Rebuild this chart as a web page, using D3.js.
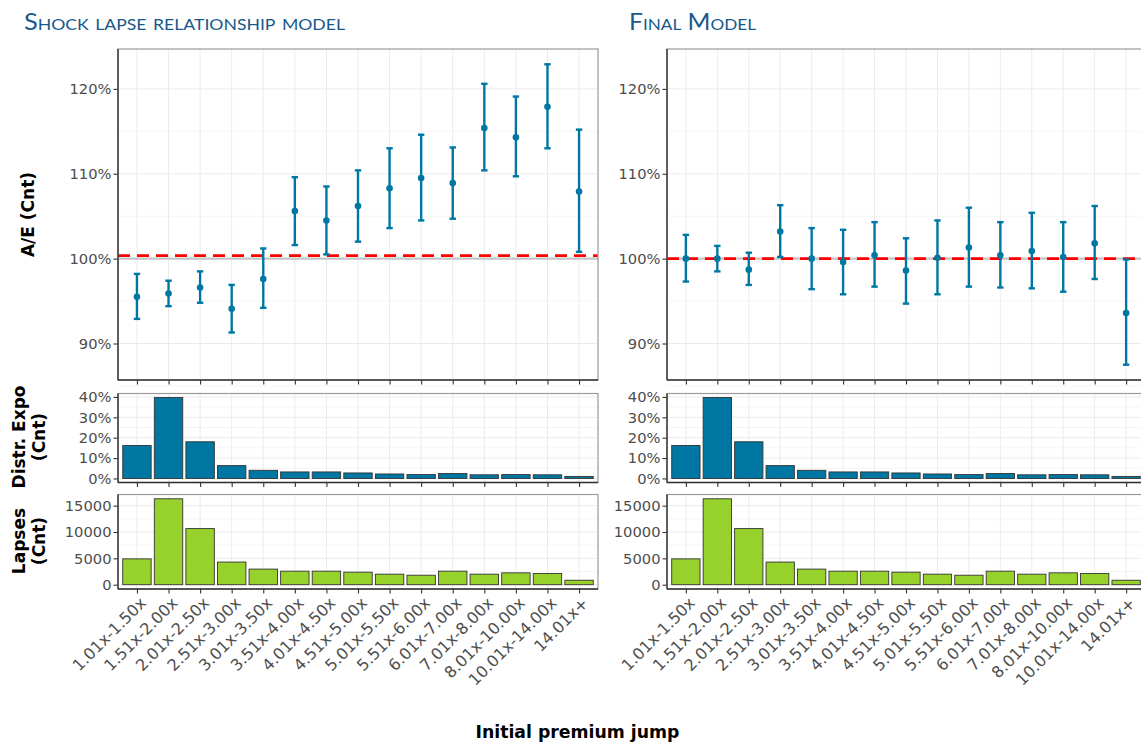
<!DOCTYPE html>
<html>
<head>
<meta charset="utf-8">
<script src="https://cdn.jsdelivr.net/npm/d3@7"></script>
<style>
  html, body { margin: 0; padding: 0; background: #fff; }
  svg { display: block; }
  text { font-family: "DejaVu Sans", sans-serif; }
  .title { font-family: Lato, "Open Sans", sans-serif; font-variant: small-caps; fill: #17598a; }
</style>
</head>
<body>
<svg id="chart" width="1141" height="743"></svg>
<script>
// ---------- data ----------
const categories = ["1.01x-1.50x","1.51x-2.00x","2.01x-2.50x","2.51x-3.00x","3.01x-3.50x","3.51x-4.00x","4.01x-4.50x","4.51x-5.00x","5.01x-5.50x","5.51x-6.00x","6.01x-7.00x","7.01x-8.00x","8.01x-10.00x","10.01x-14.00x","14.01x+"];

// Shock lapse relationship model: A/E (%) with lower/upper bounds
const aeShock      = [95.5, 95.9, 96.6, 94.1, 97.6, 105.6, 104.5, 106.2, 108.3, 109.5, 108.9, 115.4, 114.3, 117.9, 107.9];
const aeShockLow   = [92.9, 94.4, 94.8, 91.3, 94.2, 101.6, 100.5, 102.0, 103.6, 104.5, 104.7, 110.4, 109.7, 113.0, 100.8];
const aeShockHigh  = [98.2, 97.4, 98.5, 96.9, 101.2, 109.6, 108.5, 110.4, 113.0, 114.6, 113.1, 120.6, 119.1, 122.9, 115.2];
const shockRef = 100.35;

// Final model
const aeFinal      = [100.0, 100.0, 98.7, 103.2, 100.0, 99.6, 100.4, 98.6, 100.1, 101.3, 100.4, 100.9, 100.2, 101.8, 93.6];
const aeFinalLow   = [97.3, 98.5, 96.9, 100.2, 96.4, 95.8, 96.7, 94.7, 95.8, 96.7, 96.6, 96.5, 96.1, 97.6, 87.5];
const aeFinalHigh  = [102.8, 101.5, 100.7, 106.3, 103.6, 103.4, 104.3, 102.4, 104.5, 106.0, 104.3, 105.4, 104.3, 106.2, 99.9];
const finalRef = 100;

// Exposure distribution (%) and lapse counts (same in both models)
const distrExpo = [16.2, 39.7, 18.0, 6.3, 4.0, 3.2, 3.2, 2.7, 2.2, 1.9, 2.4, 1.8, 1.9, 1.8, 1.0];
const lapses    = [4900, 16300, 10650, 4300, 2960, 2570, 2570, 2380, 2000, 1800, 2570, 2000, 2250, 2120, 850];

const aeTicks = [90, 100, 110, 120];
const aeMinor = [85, 95, 105, 115];
const distrTicks = [0, 10, 20, 30, 40];
const distrMinor = [5, 15, 25, 35];
const lapseTicks = [0, 5000, 10000, 15000];
const lapseMinor = [2500, 7500, 12500];

const titles = ["Shock lapse relationship model", "Final Model"];

// ---------- layout ----------
const svg = d3.select("#chart");
const W = 1141, H = 743;
const cols = [{x0: 118, x1: 598}, {x0: 667, x1: 1145}];
const rowAE = {y0: 49, y1: 380};
const rowD  = {y0: 393.5, y1: 482.5};
const rowL  = {y0: 494.5, y1: 589};

const blue = "#0077a2";
const green = "#97d12b";
const labelColor = "#4d4d4d";

svg.append("defs").append("clipPath").attr("id", "clipAll")
  .append("rect").attr("x", 0).attr("y", 0).attr("width", W).attr("height", H);

const root = svg.append("g").attr("clip-path", "url(#clipAll)");

const yAE = d3.scaleLinear().domain([85.7, 124.7]);
const yD  = d3.scaleLinear().domain([-1.985, 41.685]);
const yL  = d3.scaleLinear().domain([-815, 17115]);

function panel(g, x, y, row, major, minor, fmt) {
  y.range([row.y1, row.y0]);
  const x0 = x.range()[0], x1 = x.range()[1];
  g.append("rect").attr("x", x0).attr("y", row.y0).attr("width", x1 - x0).attr("height", row.y1 - row.y0)
    .attr("fill", "#fff");
  g.append("g").selectAll("line").data(minor).join("line")
    .attr("x1", x0).attr("x2", x1).attr("y1", d => y(d)).attr("y2", d => y(d))
    .attr("stroke", "#f3f3f3").attr("stroke-width", 0.8);
  g.append("g").selectAll("line").data(major).join("line")
    .attr("x1", x0).attr("x2", x1).attr("y1", d => y(d)).attr("y2", d => y(d))
    .attr("stroke", "#ebebeb").attr("stroke-width", 1);
  g.append("g").selectAll("line").data(categories).join("line")
    .attr("x1", d => x(d)).attr("x2", d => x(d)).attr("y1", row.y0).attr("y2", row.y1)
    .attr("stroke", "#ebebeb").attr("stroke-width", 1);
  const ax = g.append("g").attr("transform", `translate(${x0},0)`)
    .call(d3.axisLeft(y).tickValues(major).tickFormat(fmt).tickSize(4.5).tickPadding(2));
  ax.select(".domain").remove();
  ax.selectAll(".tick line").attr("stroke", "#333").attr("stroke-width", 1.1);
  ax.selectAll(".tick text").attr("fill", labelColor).style("font-size", "14.7px")
    .style("font-family", "DejaVu Sans, sans-serif");
}

function frame(g, x, row) {
  const x0 = x.range()[0], x1 = x.range()[1];
  g.append("rect").attr("x", x0).attr("y", row.y0).attr("width", x1 - x0).attr("height", row.y1 - row.y0)
    .attr("fill", "none").attr("stroke", "#9a9a9a").attr("stroke-width", 1.2);
  g.append("line").attr("x1", x0).attr("x2", x0).attr("y1", row.y0).attr("y2", row.y1)
    .attr("stroke", "#333").attr("stroke-width", 1.4);
  g.append("line").attr("x1", x0).attr("x2", x1).attr("y1", row.y1).attr("y2", row.y1)
    .attr("stroke", "#333").attr("stroke-width", 1.6);
  const ax = g.append("g").attr("transform", `translate(0,${row.y1})`)
    .call(d3.axisBottom(x).tickSize(4.5).tickFormat(""));
  ax.select(".domain").remove();
  ax.selectAll(".tick line").attr("stroke", "#333").attr("stroke-width", 1.1);
}

const aeData = [
  {est: aeShock, lo: aeShockLow, hi: aeShockHigh, ref: shockRef},
  {est: aeFinal, lo: aeFinalLow, hi: aeFinalHigh, ref: finalRef}
];

cols.forEach((c, i) => {
  const x = d3.scalePoint().domain(categories).range([c.x0, c.x1]).padding(0.6);
  const step = x.step();
  const g = root.append("g");

  // --- A/E panel ---
  panel(g, x, yAE, rowAE, aeTicks, aeMinor, d => d + "%");
  g.append("line").attr("x1", c.x0).attr("x2", c.x1).attr("y1", yAE(100)).attr("y2", yAE(100))
    .attr("stroke", "#c4c4c4").attr("stroke-width", 2.2);
  g.append("line").attr("x1", c.x0).attr("x2", c.x1)
    .attr("y1", yAE(aeData[i].ref)).attr("y2", yAE(aeData[i].ref))
    .attr("stroke", "#ff0000").attr("stroke-width", 2.8).attr("stroke-dasharray", "12,7");
  const d = aeData[i];
  const eb = g.append("g").selectAll("g").data(categories).join("g");
  eb.append("line").attr("x1", k => x(k)).attr("x2", k => x(k))
    .attr("y1", (k, j) => yAE(d.lo[j])).attr("y2", (k, j) => yAE(d.hi[j]))
    .attr("stroke", blue).attr("stroke-width", 2.4);
  eb.append("line").attr("x1", k => x(k) - 3.2).attr("x2", k => x(k) + 3.2)
    .attr("y1", (k, j) => yAE(d.lo[j])).attr("y2", (k, j) => yAE(d.lo[j]))
    .attr("stroke", blue).attr("stroke-width", 2.4);
  eb.append("line").attr("x1", k => x(k) - 3.2).attr("x2", k => x(k) + 3.2)
    .attr("y1", (k, j) => yAE(d.hi[j])).attr("y2", (k, j) => yAE(d.hi[j]))
    .attr("stroke", blue).attr("stroke-width", 2.4);
  eb.append("circle").attr("cx", k => x(k)).attr("cy", (k, j) => yAE(d.est[j])).attr("r", 3.3)
    .attr("fill", blue);
  frame(g, x, rowAE);

  // --- Distribution panel ---
  panel(g, x, yD, rowD, distrTicks, distrMinor, v => v + "%");
  g.append("g").selectAll("rect").data(categories).join("rect")
    .attr("x", k => x(k) - step * 0.45).attr("width", step * 0.9)
    .attr("y", (k, j) => yD(distrExpo[j])).attr("height", (k, j) => yD(0) - yD(distrExpo[j]))
    .attr("fill", blue).attr("stroke", "#333").attr("stroke-width", 0.9);
  frame(g, x, rowD);

  // --- Lapses panel ---
  panel(g, x, yL, rowL, lapseTicks, lapseMinor, v => String(v));
  g.append("g").selectAll("rect").data(categories).join("rect")
    .attr("x", k => x(k) - step * 0.45).attr("width", step * 0.9)
    .attr("y", (k, j) => yL(lapses[j])).attr("height", (k, j) => yL(0) - yL(lapses[j]))
    .attr("fill", green).attr("stroke", "#333").attr("stroke-width", 0.9);
  frame(g, x, rowL);

  // x tick labels
  g.append("g").selectAll("text").data(categories).join("text")
    .attr("transform", k => `translate(${x(k) + 2},${rowL.y1 + 7}) rotate(-45)`)
    .attr("text-anchor", "end").attr("dy", "0.72em")
    .attr("fill", labelColor).style("font-size", "16px")
    .text(k => k);

  // panel title
  svg.append("text").attr("class", "title")
    .attr("x", i === 0 ? 24 : 629).attr("y", 30)
    .style("font-size", "23px")
    .attr("textLength", i === 0 ? 321 : 127).attr("lengthAdjust", "spacingAndGlyphs")
    .text(titles[i]);
});

// axis titles
function vTitle(lines, cx, cy) {
  const t = svg.append("text").attr("transform", `translate(${cx},${cy}) rotate(-90)`)
    .attr("text-anchor", "middle").style("font-size", "17px").style("font-weight", "bold")
    .attr("fill", "#000");
  lines.forEach((l, i) => {
    t.append("tspan").attr("x", 0).attr("dy", i === 0 ? (-(lines.length - 1) * 0.6 + 0.35) + "em" : "1.2em").text(l);
  });
}
vTitle(["A/E (Cnt)"], 28, 214.5);
vTitle(["Distr. Expo", "(Cnt)"], 29, 437);
vTitle(["Lapses", "(Cnt)"], 29, 541);

svg.append("text").attr("x", 577.5).attr("y", 738).attr("text-anchor", "middle")
  .style("font-size", "17.3px").style("font-weight", "bold").attr("fill", "#000")
  .text("Initial premium jump");
</script>
</body>
</html>
